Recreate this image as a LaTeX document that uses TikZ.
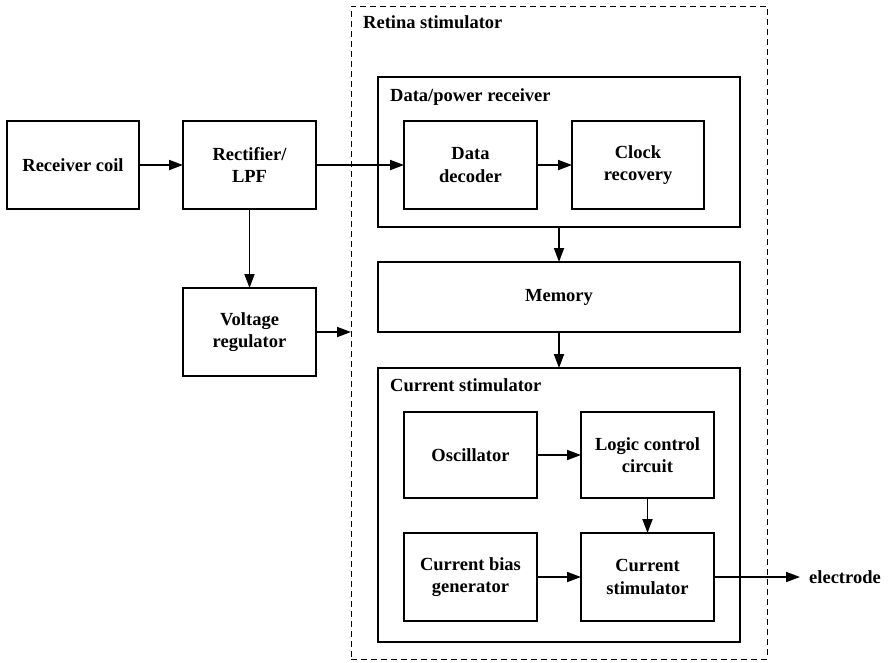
\documentclass[tikz,border=0pt]{standalone}
\usepackage{fontspec}
\setmainfont{Liberation Serif}
\usetikzlibrary{arrows.meta}
\begin{document}
\begin{tikzpicture}[x=1pt,y=-1pt,
  every node/.style={font=\bfseries\fontsize{18.5}{22.5}\selectfont},
  blk/.style={draw,line width=2pt,inner sep=0pt,outer sep=0pt,align=center},
  frame/.style={draw,line width=2pt,inner sep=0pt,outer sep=0pt},
  dframe/.style={draw,line width=1pt,dash pattern=on 6pt off 4pt,inner sep=0pt,outer sep=0pt},
  flow/.style={line width=1.8pt,-{Triangle[length=14pt,width=10pt]}},
  tag/.style={anchor=base west,inner sep=0pt}]
\useasboundingbox (0,0) rectangle (888,662);

% outer dashed enclosure and container blocks
\node[dframe,minimum width=416pt,minimum height=653pt] (retina) at (559,332.5) {};
\node[tag] at (363,28) {Retina stimulator};

\node[frame,minimum width=362pt,minimum height=150pt] (dp) at (559,152) {};
\node[tag] at (390,101) {Data/power receiver};

\node[blk,minimum width=362pt,minimum height=70pt] (mem) at (559,297) {Memory};

\node[frame,minimum width=362pt,minimum height=274pt] (cs) at (559,505) {};
\node[tag] at (390,391) {Current stimulator};

% front-end blocks
\node[blk,minimum width=132pt,minimum height=88pt] (rc) at (73,165) {Receiver coil};
\node[blk,minimum width=133pt,minimum height=88pt] (rf) at (249.5,165) {Rectifier/\\LPF};
\node[blk,minimum width=133pt,minimum height=88pt] (vr) at (249.5,332) {Voltage\\regulator};

% receiver sub-blocks
\node[blk,minimum width=133pt,minimum height=88pt] (dd) at (470.5,165) {Data\\decoder};
\node[blk,minimum width=132pt,minimum height=88pt] (cr) at (638,165) {Clock\\recovery};

% stimulator sub-blocks
\node[blk,minimum width=133pt,minimum height=86pt] (osc) at (470.5,455) {Oscillator};
\node[blk,minimum width=133pt,minimum height=86pt] (lcc) at (647.5,455) {Logic control\\circuit};
\node[blk,minimum width=133pt,minimum height=88pt] (cbg) at (470.5,577) {Current bias\\generator};
\node[blk,minimum width=133pt,minimum height=88pt] (cst) at (647.5,577) {Current\\stimulator};

\coordinate (el) at (800,577);
\node[anchor=west,inner sep=0pt] (eltext) at (809,577) {electrode};

% signal flow
\draw[flow] (rc) -- (rf);
\draw[flow] (rf) -- (dd);
\draw[flow] (rf) -- (vr);
\draw[flow] (vr.east) -- (retina.west |- vr.east);
\draw[flow] (dd) -- (cr);
\draw[flow] (dp) -- (mem);
\draw[flow] (mem) -- (cs);
\draw[flow] (osc) -- (lcc);
\draw[flow] (lcc) -- (cst);
\draw[flow] (cbg) -- (cst);
\draw[flow] (cst.east) -- (el);
\end{tikzpicture}
\end{document}
